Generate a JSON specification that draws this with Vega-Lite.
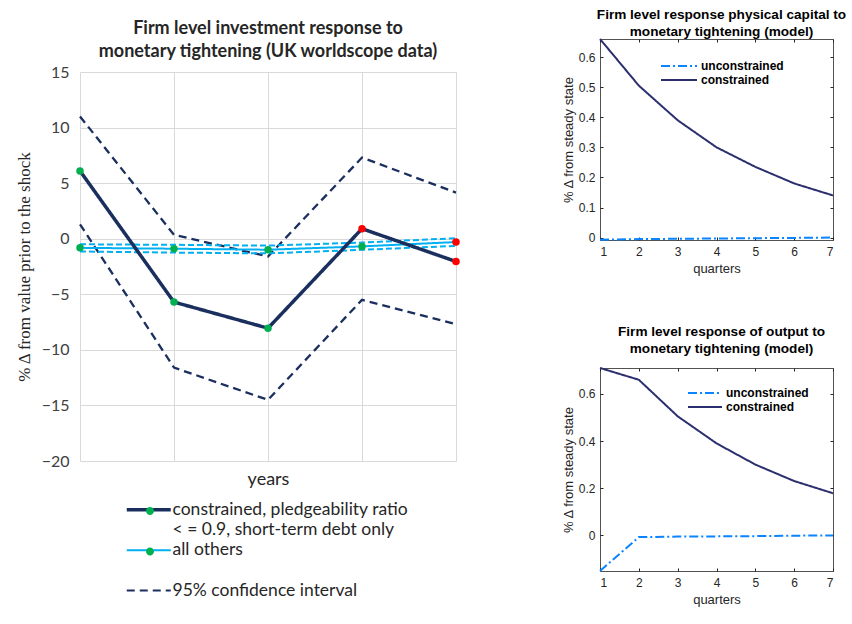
{
  "$schema": "https://vega.github.io/schema/vega-lite/v6.json",
  "background": "white",
  "autosize": {"type": "pad"},
  "padding": {"left": 15, "top": 7, "right": 0, "bottom": 0},
  "bounds": "flush",
  "spacing": 520,
  "resolve": {
    "scale": {"stroke": "independent", "strokeDash": "independent", "fill": "independent"},
    "legend": {"stroke": "independent", "strokeDash": "independent", "fill": "independent"}
  },
  "config": {
    "view": {"stroke": null},
    "axis": {"labelFont": "Lato", "titleFont": "Lato"}
  },
  "datasets": {
    "firms": [
      {"t": 0, "v": 6.1, "line": "constrained", "grp": "c", "significant": true},
      {"t": 1, "v": -5.7, "line": "constrained", "grp": "c", "significant": true},
      {"t": 2, "v": -8.05, "line": "constrained", "grp": "c", "significant": true},
      {"t": 3, "v": 0.9, "line": "constrained", "grp": "c", "significant": false},
      {"t": 4, "v": -2.05, "line": "constrained", "grp": "c", "significant": false},
      {"t": 0, "v": -0.82, "line": "all others", "grp": "a", "significant": true},
      {"t": 1, "v": -0.9, "line": "all others", "grp": "a", "significant": true},
      {"t": 2, "v": -0.99, "line": "all others", "grp": "a", "significant": true},
      {"t": 3, "v": -0.69, "line": "all others", "grp": "a", "significant": true},
      {"t": 4, "v": -0.3, "line": "all others", "grp": "a", "significant": false},
      {"t": 0, "v": 11.0, "line": "constrained upper", "grp": "ci"},
      {"t": 1, "v": 0.35, "line": "constrained upper", "grp": "ci"},
      {"t": 2, "v": -1.6, "line": "constrained upper", "grp": "ci"},
      {"t": 3, "v": 7.3, "line": "constrained upper", "grp": "ci"},
      {"t": 4, "v": 4.15, "line": "constrained upper", "grp": "ci"},
      {"t": 0, "v": 1.3, "line": "constrained lower", "grp": "ci"},
      {"t": 1, "v": -11.6, "line": "constrained lower", "grp": "ci"},
      {"t": 2, "v": -14.5, "line": "constrained lower", "grp": "ci"},
      {"t": 3, "v": -5.5, "line": "constrained lower", "grp": "ci"},
      {"t": 4, "v": -7.7, "line": "constrained lower", "grp": "ci"},
      {"t": 0, "v": -0.5, "line": "all others upper", "grp": "ab"},
      {"t": 1, "v": -0.55, "line": "all others upper", "grp": "ab"},
      {"t": 2, "v": -0.62, "line": "all others upper", "grp": "ab"},
      {"t": 3, "v": -0.35, "line": "all others upper", "grp": "ab"},
      {"t": 4, "v": 0.05, "line": "all others upper", "grp": "ab"},
      {"t": 0, "v": -1.15, "line": "all others lower", "grp": "ab"},
      {"t": 1, "v": -1.25, "line": "all others lower", "grp": "ab"},
      {"t": 2, "v": -1.32, "line": "all others lower", "grp": "ab"},
      {"t": 3, "v": -1.0, "line": "all others lower", "grp": "ab"},
      {"t": 4, "v": -0.65, "line": "all others lower", "grp": "ab"}
    ],
    "years": [{"t": 0}, {"t": 1}, {"t": 2}, {"t": 3}, {"t": 4}],
    "capital": [
      {"q": 1, "v": 0.66, "series": "constrained"},
      {"q": 2, "v": 0.505, "series": "constrained"},
      {"q": 3, "v": 0.39, "series": "constrained"},
      {"q": 4, "v": 0.3, "series": "constrained"},
      {"q": 5, "v": 0.235, "series": "constrained"},
      {"q": 6, "v": 0.18, "series": "constrained"},
      {"q": 7, "v": 0.14, "series": "constrained"},
      {"q": 1, "v": -0.007, "series": "unconstrained"},
      {"q": 2, "v": -0.005, "series": "unconstrained"},
      {"q": 3, "v": -0.004, "series": "unconstrained"},
      {"q": 4, "v": -0.003, "series": "unconstrained"},
      {"q": 5, "v": -0.002, "series": "unconstrained"},
      {"q": 6, "v": -0.001, "series": "unconstrained"},
      {"q": 7, "v": 0.0, "series": "unconstrained"}
    ],
    "output": [
      {"q": 1, "v": 0.71, "series": "constrained"},
      {"q": 2, "v": 0.66, "series": "constrained"},
      {"q": 3, "v": 0.505, "series": "constrained"},
      {"q": 4, "v": 0.39, "series": "constrained"},
      {"q": 5, "v": 0.3, "series": "constrained"},
      {"q": 6, "v": 0.23, "series": "constrained"},
      {"q": 7, "v": 0.178, "series": "constrained"},
      {"q": 1, "v": -0.152, "series": "unconstrained"},
      {"q": 2, "v": -0.008, "series": "unconstrained"},
      {"q": 3, "v": -0.006, "series": "unconstrained"},
      {"q": 4, "v": -0.005, "series": "unconstrained"},
      {"q": 5, "v": -0.004, "series": "unconstrained"},
      {"q": 6, "v": -0.002, "series": "unconstrained"},
      {"q": 7, "v": -0.001, "series": "unconstrained"}
    ],
    "blank": [{}]
  },
  "hconcat": [
    {
      "bounds": "flush",
      "spacing": 32,
      "resolve": {
        "scale": {"stroke": "independent", "strokeDash": "independent", "fill": "independent"},
        "legend": {"stroke": "independent", "strokeDash": "independent", "fill": "independent"}
      },
      "vconcat": [
        {
          "width": 376,
          "height": 1,
          "data": {"name": "blank"},
          "mark": {"type": "text", "text": ""},
          "encoding": {}
        },
        {
          "width": 376,
          "height": 389,
          "data": {"name": "firms"},
          "title": {
            "text": ["Firm level investment response to", "monetary tightening (UK worldscope data)"],
            "font": "Lato",
            "fontSize": 18,
            "fontWeight": "bold",
            "color": "#262626",
            "lineHeight": 23,
            "anchor": "middle",
            "frame": "group",
            "offset": 3
          },
          "encoding": {
            "x": {
              "field": "t",
              "type": "quantitative",
              "scale": {"domain": [0, 4], "nice": false, "zero": false},
              "axis": {
                "values": [0, 1, 2, 3, 4],
                "labels": false,
                "ticks": false,
                "domain": false,
                "grid": true,
                "gridColor": "#d9d9d9",
                "title": "years",
                "titleFontSize": 18,
                "titleFontWeight": "normal",
                "titleColor": "#262626",
                "titlePadding": 9
              }
            },
            "y": {
              "field": "v",
              "type": "quantitative",
              "scale": {"domain": [-20, 15], "nice": false, "zero": false},
              "axis": {
                "values": [-20, -15, -10, -5, 0, 5, 10, 15],
                "ticks": false,
                "domain": false,
                "grid": true,
                "gridColor": "#d9d9d9",
                "labelFontSize": 16,
                "labelColor": "#404040",
                "labelPadding": 11,
                "title": "% Δ from value  prior to the shock",
                "titleFont": "Liberation Serif",
                "titleFontSize": 17,
                "titleFontWeight": "normal",
                "titleColor": "#262626",
                "titlePadding": 8
              }
            }
          },
          "layer": [
            {
              "data": {"name": "years"},
              "mark": {"type": "text", "font": "Lato", "fontSize": 16, "color": "#404040", "baseline": "middle", "dy": 24},
              "encoding": {
                "y": {"datum": 0},
                "text": {"field": "t", "type": "quantitative"}
              }
            },
            {
              "encoding": {
                "detail": {"field": "line"},
                "stroke": {
                  "field": "grp",
                  "type": "nominal",
                  "scale": {
                    "domain": ["c", "c2", "a", "ab", "ci"],
                    "range": ["#1b2f5e", "#ffffff", "#00b0f0", "#00b0f0", "#1b2f5e"]
                  },
                  "legend": {
                    "orient": "none",
                    "legendX": 48,
                    "legendY": 429,
                    "title": null,
                    "symbolType": "M-1.111,0H3.778",
                    "symbolSize": 324,
                    "symbolStrokeWidth": 2,
                    "rowPadding": 1.2,
                    "padding": 0,
                    "labelFont": "Lato",
                    "labelFontSize": 17.5,
                    "labelColor": "#262626",
                    "labelOffset": 27,
                    "labelLimit": 400,
                    "labelExpr": "datum.value === 'c' ? 'constrained, pledgeability ratio' : datum.value === 'c2' ? '< = 0.9, short-term debt only' : datum.value === 'a' ? 'all others' : datum.value === 'ci' ? '95% confidence interval' : ''",
                    "encode": {
                      "symbols": {
                        "update": {
                          "strokeWidth": {"signal": "datum.value === 'c' ? 3.5 : 2"},
                          "opacity": {"signal": "datum.value === 'c2' || datum.value === 'ab' ? 0 : 1"}
                        }
                      }
                    }
                  }
                },
                "strokeDash": {
                  "field": "grp",
                  "type": "nominal",
                  "scale": {
                    "domain": ["c", "c2", "a", "ab", "ci"],
                    "range": [[1, 0], [1, 0], [1, 0], [6, 3], [8, 5]]
                  }
                }
              },
              "layer": [
                {"transform": [{"filter": "datum.grp === 'ci'"}], "mark": {"type": "line", "strokeWidth": 2.3}},
                {"transform": [{"filter": "datum.grp === 'ab'"}], "mark": {"type": "line", "strokeWidth": 2}},
                {"transform": [{"filter": "datum.grp === 'a'"}], "mark": {"type": "line", "strokeWidth": 2}},
                {"transform": [{"filter": "datum.grp === 'c'"}], "mark": {"type": "line", "strokeWidth": 3.5}}
              ]
            },
            {
              "transform": [{"filter": "datum.grp === 'c' || datum.grp === 'a'"}],
              "mark": {"type": "point", "filled": true, "size": 56, "opacity": 1, "strokeWidth": 0},
              "encoding": {
                "fill": {
                  "condition": {"test": "!datum.significant", "value": "#ff0000"},
                  "field": "line",
                  "type": "nominal",
                  "scale": {
                    "domain": ["constrained", "constrained note", "all others", "all others band", "confidence band"],
                    "range": ["#00b050", "transparent", "#00b050", "transparent", "transparent"]
                  },
                  "legend": {
                    "orient": "none",
                    "legendX": 48,
                    "legendY": 429,
                    "title": null,
                    "symbolType": "M-1.111,0H3.778M1.778,0A0.444,0.444,0,1,1,0.889,0A0.444,0.444,0,1,1,1.778,0Z",
                    "symbolSize": 324,
                    "symbolStrokeWidth": 2,
                    "symbolStrokeColor": "transparent",
                    "symbolOpacity": 1,
                    "rowPadding": 1.2,
                    "padding": 0,
                    "labelFont": "Lato",
                    "labelFontSize": 17.5,
                    "labelOpacity": 0,
                    "labelOffset": 27,
                    "labelExpr": "''",
                    "encode": {
                      "symbols": {"update": {"stroke": {"value": "transparent"}}}
                    }
                  }
                }
              }
            }
          ]
        }
      ]
    },
    {
      "bounds": "flush",
      "spacing": 128,
      "resolve": {
        "scale": {"stroke": "independent", "strokeDash": "independent"},
        "legend": {"stroke": "independent", "strokeDash": "independent"}
      },
      "vconcat": [
        {
          "width": 233,
          "height": 201,
          "data": {"name": "capital"},
          "title": {
            "text": ["Firm level response physical capital to", "monetary tightening (model)"],
            "font": "Liberation Sans",
            "fontSize": 13.6,
            "fontWeight": "bold",
            "color": "#000000",
            "lineHeight": 17.7,
            "anchor": "middle",
            "frame": "group",
            "offset": -4,
            "dx": 5
          },
          "layer": [
            {
              "mark": {"type": "line", "strokeWidth": 2},
              "encoding": {
                "x": {
                  "field": "q", "type": "quantitative",
                  "scale": {"domain": [1, 7], "nice": false, "zero": false},
                  "axis": {
                    "values": [1, 2, 3, 4, 5, 6, 7], "tickSize": -3, "tickColor": "#262626",
                    "domainColor": "#262626", "domainWidth": 0.8, "grid": false,
                    "labelFont": "Liberation Sans", "labelFontSize": 12, "labelColor": "#262626", "labelPadding": 9.5,
                    "title": "quarters", "titleFont": "Liberation Sans", "titleFontSize": 13,
                    "titleFontWeight": "normal", "titleColor": "#262626", "titlePadding": 5
                  }
                },
                "y": {
                  "field": "v", "type": "quantitative",
                  "scale": {"domain": [-0.008, 0.66], "nice": false, "zero": false},
                  "axis": {
                    "values": [0, 0.1, 0.2, 0.3, 0.4, 0.5, 0.6], "format": "~g", "tickSize": -3, "tickColor": "#262626",
                    "domainColor": "#262626", "domainWidth": 0.8, "grid": false,
                    "labelFont": "Liberation Sans", "labelFontSize": 12, "labelColor": "#262626", "labelPadding": 8,
                    "title": "% Δ from steady state", "titleFont": "Liberation Sans", "titleFontSize": 13,
                    "titleFontWeight": "normal", "titleColor": "#262626", "titlePadding": 3
                  }
                },
                "stroke": {
                  "field": "series",
                  "type": "nominal",
                  "scale": {"domain": ["unconstrained", "constrained"], "range": ["#0a84ff", "#2c2f6e"]},
                  "legend": {
                    "orient": "none",
                    "legendX": 61,
                    "legendY": 19,
                    "title": null,
                    "symbolType": "M-1.143,0H4",
                    "symbolSize": 196,
                    "symbolStrokeWidth": 2,
                    "rowPadding": 0,
                    "padding": 0,
                    "labelFont": "Liberation Sans",
                    "labelFontSize": 12,
                    "labelFontWeight": "bold",
                    "labelColor": "#000000",
                    "labelOffset": 24
                  }
                },
                "strokeDash": {
                  "field": "series",
                  "type": "nominal",
                  "scale": {"domain": ["unconstrained", "constrained"], "range": [[9, 3, 2, 3], [1, 0]]}
                }
              }
            },
            {
              "mark": {"type": "point", "opacity": 0},
              "encoding": {
                "x": {
                  "field": "q", "type": "quantitative",
                  "axis": {
                    "orient": "top", "values": [1, 2, 3, 4, 5, 6, 7], "tickSize": -3, "tickColor": "#262626",
                    "domainColor": "#262626", "domainWidth": 0.8, "grid": false, "labels": false, "title": null
                  }
                },
                "y": {
                  "field": "v", "type": "quantitative",
                  "axis": {
                    "orient": "right", "values": [0, 0.1, 0.2, 0.3, 0.4, 0.5, 0.6], "tickSize": -3, "tickColor": "#262626",
                    "domainColor": "#262626", "domainWidth": 0.8, "grid": false, "labels": false, "title": null
                  }
                }
              }
            }
          ],
          "resolve": {"axis": {"x": "independent", "y": "independent"}}
        },
        {
          "width": 233,
          "height": 203,
          "data": {"name": "output"},
          "title": {
            "text": ["Firm level response of output to", "monetary tightening (model)"],
            "font": "Liberation Sans",
            "fontSize": 13.6,
            "fontWeight": "bold",
            "color": "#000000",
            "lineHeight": 17.3,
            "anchor": "middle",
            "frame": "group",
            "offset": 8,
            "dx": 5
          },
          "layer": [
            {
              "mark": {"type": "line", "strokeWidth": 2},
              "encoding": {
                "x": {
                  "field": "q", "type": "quantitative",
                  "scale": {"domain": [1, 7], "nice": false, "zero": false},
                  "axis": {
                    "values": [1, 2, 3, 4, 5, 6, 7], "tickSize": -3, "tickColor": "#262626",
                    "domainColor": "#262626", "domainWidth": 0.8, "grid": false,
                    "labelFont": "Liberation Sans", "labelFontSize": 12, "labelColor": "#262626", "labelPadding": 9.5,
                    "title": "quarters", "titleFont": "Liberation Sans", "titleFontSize": 13,
                    "titleFontWeight": "normal", "titleColor": "#262626", "titlePadding": 5
                  }
                },
                "y": {
                  "field": "v", "type": "quantitative",
                  "scale": {"domain": [-0.152, 0.71], "nice": false, "zero": false},
                  "axis": {
                    "values": [0, 0.2, 0.4, 0.6], "format": "~g", "tickSize": -3, "tickColor": "#262626",
                    "domainColor": "#262626", "domainWidth": 0.8, "grid": false,
                    "labelFont": "Liberation Sans", "labelFontSize": 12, "labelColor": "#262626", "labelPadding": 8,
                    "title": "% Δ from steady state", "titleFont": "Liberation Sans", "titleFontSize": 13,
                    "titleFontWeight": "normal", "titleColor": "#262626", "titlePadding": 3
                  }
                },
                "stroke": {
                  "field": "series",
                  "type": "nominal",
                  "scale": {"domain": ["unconstrained", "constrained"], "range": ["#0a84ff", "#2c2f6e"]},
                  "legend": {
                    "orient": "none",
                    "legendX": 88,
                    "legendY": 17,
                    "title": null,
                    "symbolType": "M-1.143,0H3.714",
                    "symbolSize": 196,
                    "symbolStrokeWidth": 2,
                    "rowPadding": 0,
                    "padding": 0,
                    "labelFont": "Liberation Sans",
                    "labelFontSize": 12,
                    "labelFontWeight": "bold",
                    "labelColor": "#000000",
                    "labelOffset": 22
                  }
                },
                "strokeDash": {
                  "field": "series",
                  "type": "nominal",
                  "scale": {"domain": ["unconstrained", "constrained"], "range": [[9, 3, 2, 3], [1, 0]]}
                }
              }
            },
            {
              "mark": {"type": "point", "opacity": 0},
              "encoding": {
                "x": {
                  "field": "q", "type": "quantitative",
                  "axis": {
                    "orient": "top", "values": [1, 2, 3, 4, 5, 6, 7], "tickSize": -3, "tickColor": "#262626",
                    "domainColor": "#262626", "domainWidth": 0.8, "grid": false, "labels": false, "title": null
                  }
                },
                "y": {
                  "field": "v", "type": "quantitative",
                  "axis": {
                    "orient": "right", "values": [0, 0.2, 0.4, 0.6], "tickSize": -3, "tickColor": "#262626",
                    "domainColor": "#262626", "domainWidth": 0.8, "grid": false, "labels": false, "title": null
                  }
                }
              }
            }
          ],
          "resolve": {"axis": {"x": "independent", "y": "independent"}}
        }
      ]
    }
  ]
}
